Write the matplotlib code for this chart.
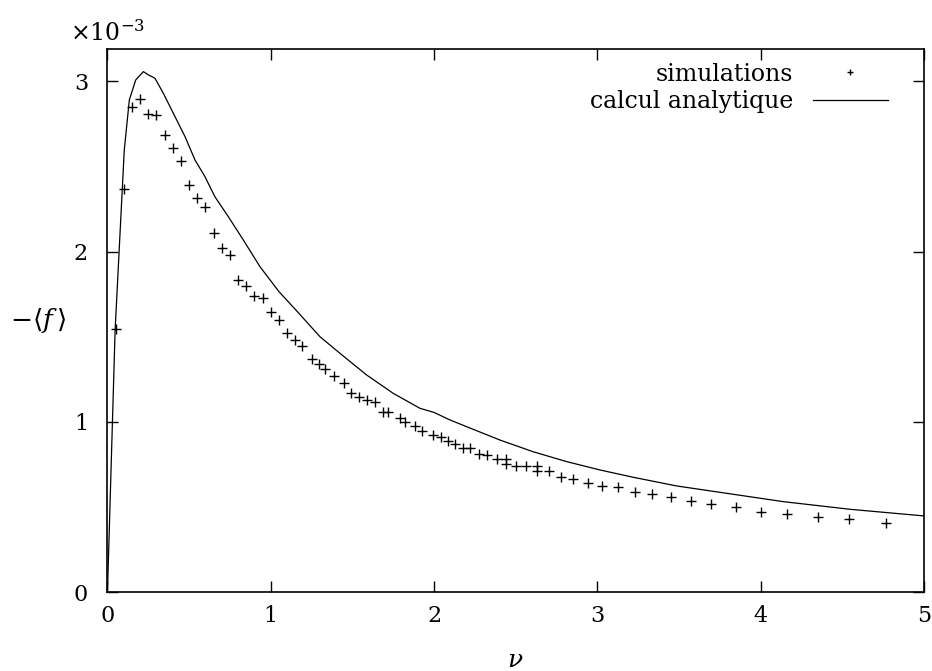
import matplotlib
matplotlib.use("Agg")
import matplotlib.pyplot as plt

plt.rcParams['font.family'] = ['DejaVu Serif']
plt.rcParams['mathtext.fontset'] = 'dejavuserif'

# simulation points (y in units of 1e-3)
sim_x = [0.05, 0.10, 0.15, 0.20, 0.25, 0.30, 0.35, 0.40, 0.45, 0.50, 0.55, 0.60,
         0.65, 0.70, 0.75, 0.80, 0.85, 0.90, 0.95, 1.00, 1.05, 1.10, 1.15,
         1.19, 1.25, 1.295, 1.335, 1.39, 1.45, 1.49, 1.54, 1.59, 1.64, 1.69, 1.72,
         1.79, 1.82, 1.885, 1.924, 1.995, 2.04, 2.085, 2.13, 2.175, 2.22, 2.275,
         2.326, 2.383, 2.438, 2.438, 2.50, 2.563, 2.628, 2.628, 2.704, 2.779, 2.852,
         2.941, 3.028, 3.126, 3.228, 3.336, 3.448, 3.571, 3.698, 3.849, 4.0, 4.163,
         4.353, 4.543, 4.766]
sim_y = [1.543, 2.37, 2.851, 2.899, 2.81, 2.80, 2.687, 2.611, 2.534, 2.393, 2.315, 2.26,
         2.109, 2.021, 1.978, 1.831, 1.798, 1.739, 1.729, 1.643, 1.596, 1.524, 1.481,
         1.447, 1.371, 1.34, 1.308, 1.269, 1.23, 1.167, 1.148, 1.126, 1.114, 1.056, 1.06,
         1.022, 0.998, 0.975, 0.945, 0.92, 0.908, 0.886, 0.87, 0.848, 0.848, 0.811,
         0.805, 0.78, 0.78, 0.752, 0.739, 0.742, 0.74, 0.711, 0.713, 0.677, 0.664,
         0.642, 0.623, 0.615, 0.589, 0.575, 0.56, 0.536, 0.517, 0.498, 0.472, 0.458,
         0.439, 0.427, 0.407]

# analytic curve (y in units of 1e-3)
ana_x = [0, 0.047, 0.077, 0.103, 0.134, 0.173, 0.22, 0.25, 0.291, 0.342, 0.403, 0.475,
         0.536, 0.597, 0.658, 0.74, 0.832, 0.934, 1.05, 1.179, 1.301, 1.424, 1.587,
         1.75, 1.914, 2.0, 2.097, 2.2, 2.403, 2.607, 2.812, 3.016, 3.22, 3.486, 4.138,
         4.547, 5.0]
ana_y = [0, 1.54, 2.108, 2.597, 2.891, 3.008, 3.057, 3.038, 3.018, 2.93, 2.813, 2.675,
         2.538, 2.44, 2.322, 2.205, 2.068, 1.911, 1.765, 1.63, 1.5, 1.402, 1.275,
         1.167, 1.079, 1.055, 1.011, 0.971, 0.893, 0.824, 0.766, 0.717, 0.674, 0.623,
         0.531, 0.486, 0.447]

x_ticks = [0, 1, 2, 3, 4, 5]
y_ticks = [0, 1, 2, 3]

fig = plt.figure(figsize=(9.32, 6.71), dpi=100)
ax = fig.add_axes([0.1153, 0.1177, 0.8761, 0.8093])

ax.plot(sim_x, sim_y, linestyle='none', marker='+', color='black',
        markersize=7, markeredgewidth=1.0, label='simulations')
ax.plot(ana_x, ana_y, color='black', linewidth=0.9, label='calcul analytique')

ax.set_xlim(0, 5)
ax.set_ylim(0, 3.19)
ax.set_xticks(x_ticks)
ax.set_yticks(y_ticks)
ax.set_xticklabels([str(t) for t in x_ticks])
ax.set_yticklabels([str(t) for t in y_ticks])
ax.tick_params(direction='in', length=8, width=1, top=True, right=True,
               labelsize=16)
ax.tick_params(axis='x', pad=9)
ax.tick_params(axis='y', pad=14)
for s in ax.spines.values():
    s.set_linewidth(1.2)

ax.text(-0.046, 1.006, r'$\times 10^{-3}$', transform=ax.transAxes,
        fontsize=17, ha='left', va='bottom')
ax.set_ylabel(r'$-\langle f\,\rangle$', fontsize=19, rotation=0, ha='center', va='center')
ax.yaxis.set_label_coords(-0.085, 0.5)
ax.set_xlabel(r'$\nu$', fontsize=18, labelpad=16)

leg = ax.legend(loc='upper right', bbox_to_anchor=(0.956, 0.975), frameon=False,
                markerfirst=False, fontsize=17, handlelength=3.2, handletextpad=0.8,
                labelspacing=0.2, borderaxespad=0.0, borderpad=0.0, markerscale=0.6)

fig.savefig('out.png', dpi=100)
